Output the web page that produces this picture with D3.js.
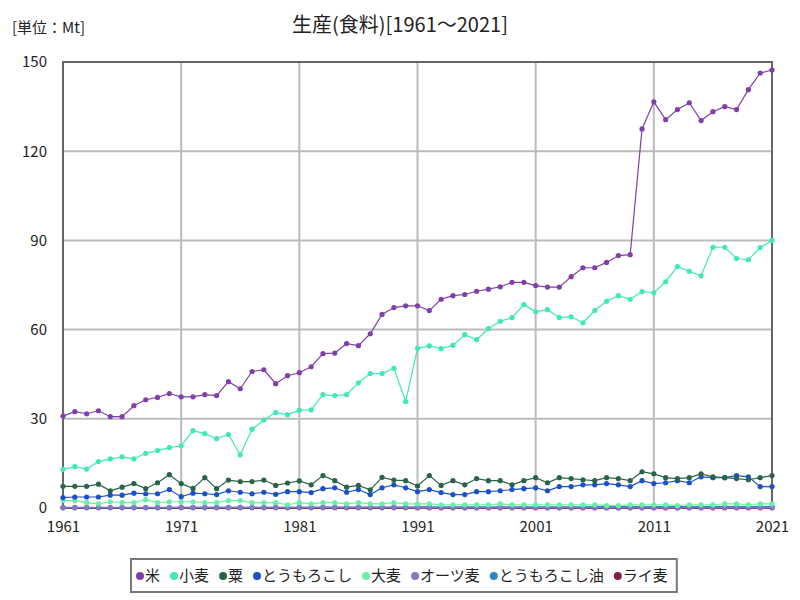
<!DOCTYPE html>
<html>
<head>
<meta charset="utf-8">
<script src="https://cdn.jsdelivr.net/npm/d3@7"></script>
<style>
  body { margin: 0; background: #fff; }
  text { font-family: "Noto Sans CJK JP", sans-serif; }
</style>
</head>
<body>
<div id="chart"></div>
<script>
// years 1961..2021
const years = d3.range(1961, 2022);

const rice = [30.9, 32.4, 31.7, 32.7, 30.7, 30.7, 34.4, 36.4, 37.2, 38.5,
  37.4, 37.4, 38.1, 37.8, 42.5, 40.1, 45.9, 46.5, 41.8, 44.5,
  45.5, 47.5, 51.9, 52.1, 55.3, 54.6, 58.6, 65.1, 67.4, 68.0,
  68.0, 66.4, 70.2, 71.4, 71.8, 72.9, 73.6, 74.4, 75.9, 75.9,
  74.8, 74.3, 74.3, 77.8, 80.8, 80.8, 82.6, 84.9, 85.2, 127.5,
  136.6, 130.6, 134.0, 136.3, 130.3, 133.3, 135.0, 134.0, 140.7, 146.3,
  147.3];

const wheat = [13.0, 13.9, 13.1, 15.6, 16.5, 17.2, 16.5, 18.4, 19.3, 20.3,
  20.9, 26.0, 25.0, 23.3, 24.7, 17.9, 26.5, 29.6, 32.1, 31.4,
  32.9, 33.0, 38.1, 37.8, 38.1, 42.1, 45.2, 45.2, 47.0, 35.8,
  53.7, 54.5, 53.6, 54.7, 58.3, 56.6, 60.3, 62.8, 64.0, 68.4,
  66.0, 66.7, 64.1, 64.3, 62.3, 66.4, 69.5, 71.4, 70.2, 72.8,
  72.4, 76.1, 81.2, 79.6, 78.1, 87.7, 87.7, 83.9, 83.5, 87.6,
  90.0];

const millet = [7.3, 7.3, 7.3, 8.0, 5.8, 7.0, 8.2, 6.5, 8.5, 11.2,
  8.2, 6.6, 10.2, 6.5, 9.4, 8.9, 8.9, 9.4, 7.6, 8.4,
  9.1, 7.8, 10.9, 9.2, 7.0, 7.6, 6.1, 10.3, 9.4, 9.2,
  7.4, 10.9, 7.6, 9.2, 7.8, 9.9, 9.2, 9.2, 7.8, 9.2,
  10.2, 8.5, 10.2, 9.9, 9.5, 9.2, 10.2, 9.9, 9.2, 12.2,
  11.5, 10.2, 9.9, 10.2, 11.5, 10.5, 10.2, 9.9, 9.5, 10.2,
  10.9];

const corn = [3.5, 3.7, 3.7, 3.7, 4.3, 4.3, 5.0, 4.8, 4.8, 6.2,
  3.8, 5.0, 4.8, 4.5, 5.8, 5.3, 4.8, 5.3, 4.6, 5.5,
  5.5, 5.2, 6.5, 6.8, 5.3, 6.2, 4.5, 6.8, 7.8, 6.8,
  5.5, 6.2, 5.2, 4.5, 4.5, 5.5, 5.5, 5.8, 6.2, 6.5,
  6.8, 5.8, 7.2, 7.2, 7.8, 7.8, 8.2, 7.8, 7.2, 9.2,
  8.2, 8.5, 9.2, 8.5, 10.5, 10.2, 10.2, 10.9, 10.5, 7.2,
  7.2];

const barley = [2.5, 2.5, 1.8, 1.4, 2.1, 1.8, 1.8, 2.8, 1.8, 2.1,
  2.1, 2.1, 1.8, 1.8, 2.5, 2.5, 1.8, 1.8, 1.8, 1.1,
  1.8, 1.4, 1.8, 1.8, 1.4, 1.8, 1.4, 1.4, 1.8, 1.4,
  1.4, 1.4, 1.1, 1.1, 1.1, 1.1, 1.1, 1.4, 1.1, 1.1,
  1.1, 1.1, 1.1, 1.1, 1.1, 1.1, 0.8, 0.8, 1.1, 1.1,
  1.1, 1.1, 0.8, 1.1, 1.1, 1.1, 1.4, 1.4, 1.1, 1.4,
  1.4];

const oats = [0.2, 0.2, 0.2, 0.2, 0.2, 0.2, 0.2, 0.2, 0.2, 0.2,
  0.2, 0.2, 0.2, 0.2, 0.2, 0.2, 0.2, 0.2, 0.2, 0.2,
  0.2, 0.2, 0.2, 0.2, 0.2, 0.2, 0.2, 0.2, 0.2, 0.2,
  0.1, 0.1, 0.1, 0.1, 0.1, 0.1, 0.1, 0.1, 0.1, 0.1,
  0.1, 0.1, 0.1, 0.1, 0.1, 0.1, 0.1, 0.1, 0.1, 0.1,
  0.1, 0.1, 0.1, 0.1, 0.1, 0.1, 0.1, 0.1, 0.1, 0.1,
  0.1];

const cornOil = [0.1, 0.1, 0.1, 0.1, 0.1, 0.1, 0.1, 0.1, 0.1, 0.1,
  0.2, 0.2, 0.2, 0.2, 0.2, 0.2, 0.2, 0.2, 0.2, 0.2,
  0.2, 0.2, 0.3, 0.3, 0.3, 0.3, 0.3, 0.3, 0.3, 0.3,
  0.4, 0.4, 0.4, 0.4, 0.4, 0.4, 0.4, 0.4, 0.4, 0.4,
  0.4, 0.4, 0.4, 0.4, 0.4, 0.5, 0.5, 0.5, 0.5, 0.5,
  0.5, 0.5, 0.5, 0.5, 0.5, 0.5, 0.5, 0.5, 0.5, 0.5,
  0.5];

const rye = [0.05, 0.05, 0.05, 0.05, 0.05, 0.05, 0.05, 0.05, 0.05, 0.05,
  0.05, 0.05, 0.05, 0.05, 0.05, 0.05, 0.05, 0.05, 0.05, 0.05,
  0.05, 0.05, 0.05, 0.05, 0.05, 0.05, 0.05, 0.05, 0.05, 0.05,
  0.03, 0.03, 0.03, 0.03, 0.03, 0.03, 0.03, 0.03, 0.03, 0.03,
  0.03, 0.03, 0.03, 0.03, 0.03, 0.03, 0.03, 0.03, 0.03, 0.03,
  0.03, 0.03, 0.03, 0.03, 0.03, 0.03, 0.03, 0.03, 0.03, 0.03,
  0.03];

const seriesNames = ["米", "小麦", "粟", "とうもろこし", "大麦", "オーツ麦", "とうもろこし油", "ライ麦"];
const seriesColors = ["#8040a8", "#40e8b8", "#2a6448", "#1c50c8", "#68f0a8", "#8878c8", "#2888c0", "#7a2040"];
const seriesValues = [rice, wheat, millet, corn, barley, oats, cornOil, rye];

const xTicks = [1961, 1971, 1981, 1991, 2001, 2011, 2021];
const yTicks = [0, 30, 60, 90, 120, 150];

// drawing order: small series first, big ones on top
const drawOrder = [7, 6, 5, 4, 3, 2, 1, 0];

const W = 800, H = 600;
const margin = { top: 62, right: 28, bottom: 92, left: 63 },
  width = W - margin.left - margin.right,
  height = H - margin.top - margin.bottom;

const svgRoot = d3.select("#chart").append("svg")
  .attr("width", W)
  .attr("height", H);

svgRoot.append("rect").attr("width", W).attr("height", H).attr("fill", "#fff");

svgRoot.append("text")
  .attr("x", 400).attr("y", 32)
  .attr("text-anchor", "middle")
  .attr("font-size", 20)
  .attr("fill", "#222")
  .text("生産(食料)[1961～2021]");

svgRoot.append("text")
  .attr("x", 12).attr("y", 33)
  .attr("font-size", 15)
  .attr("fill", "#222")
  .text("[単位：Mt]");

const svg = svgRoot.append("g")
  .attr("transform", `translate(${margin.left},${margin.top})`);

const x = d3.scaleLinear().domain([1961, 2021]).range([0, width]);
const y = d3.scaleLinear().domain([0, 150]).range([height, 0]);

// grid
svg.append("g")
  .selectAll("line.vgrid")
  .data(xTicks)
  .join("line")
  .attr("x1", d => x(d)).attr("x2", d => x(d))
  .attr("y1", 0).attr("y2", height)
  .attr("stroke", "#bbb").attr("stroke-width", 2);

svg.append("g")
  .selectAll("line.hgrid")
  .data(yTicks)
  .join("line")
  .attr("x1", 0).attr("x2", width)
  .attr("y1", d => y(d)).attr("y2", d => y(d))
  .attr("stroke", "#bbb").attr("stroke-width", 2);

// axes
const xAxis = svg.append("g")
  .attr("transform", `translate(0,${height})`)
  .call(d3.axisBottom(x).tickValues(xTicks).tickFormat(d3.format("d")).tickSize(0).tickPadding(13));
xAxis.select(".domain").remove();
xAxis.selectAll("text").attr("font-size", 15).attr("fill", "#222")
  .style("font-family", '"Noto Sans CJK JP", sans-serif');

const yAxis = svg.append("g")
  .call(d3.axisLeft(y).tickValues(yTicks).tickSize(0).tickPadding(16));
yAxis.select(".domain").remove();
yAxis.selectAll("text").attr("font-size", 15).attr("fill", "#222")
  .style("font-family", '"Noto Sans CJK JP", sans-serif');

// frame
svg.append("rect")
  .attr("width", width).attr("height", height)
  .attr("fill", "none").attr("stroke", "#666").attr("stroke-width", 2);

const line = d3.line()
  .x((d, i) => x(years[i]))
  .y(d => y(d));

drawOrder.forEach(k => {
  const vals = seriesValues[k];
  svg.append("path")
    .datum(vals)
    .attr("d", line)
    .attr("fill", "none")
    .attr("stroke", seriesColors[k])
    .attr("stroke-width", 1.2);
  svg.append("g")
    .selectAll("circle")
    .data(vals)
    .join("circle")
    .attr("cx", (d, i) => x(years[i]))
    .attr("cy", d => y(d))
    .attr("r", 2.6)
    .attr("fill", seriesColors[k]);
});

// legend: items laid out one after another, width from the text itself
const legend = svgRoot.append("g");
const legendBox = legend.append("rect")
  .attr("x", 131).attr("y", 559)
  .attr("height", 33)
  .attr("fill", "#fff").attr("stroke", "#777").attr("stroke-width", 2);

let lx = 140;
seriesNames.forEach((name, k) => {
  legend.append("circle")
    .attr("cx", lx).attr("cy", 576)
    .attr("r", 4)
    .attr("fill", seriesColors[k]);
  const t = legend.append("text")
    .attr("x", lx + 5).attr("y", 581)
    .attr("font-size", 15)
    .attr("fill", "#222")
    .text(name);
  lx += 5 + t.node().getComputedTextLength() + 14;
});
legendBox.attr("width", lx - 131 - 5);
</script>
</body>
</html>
